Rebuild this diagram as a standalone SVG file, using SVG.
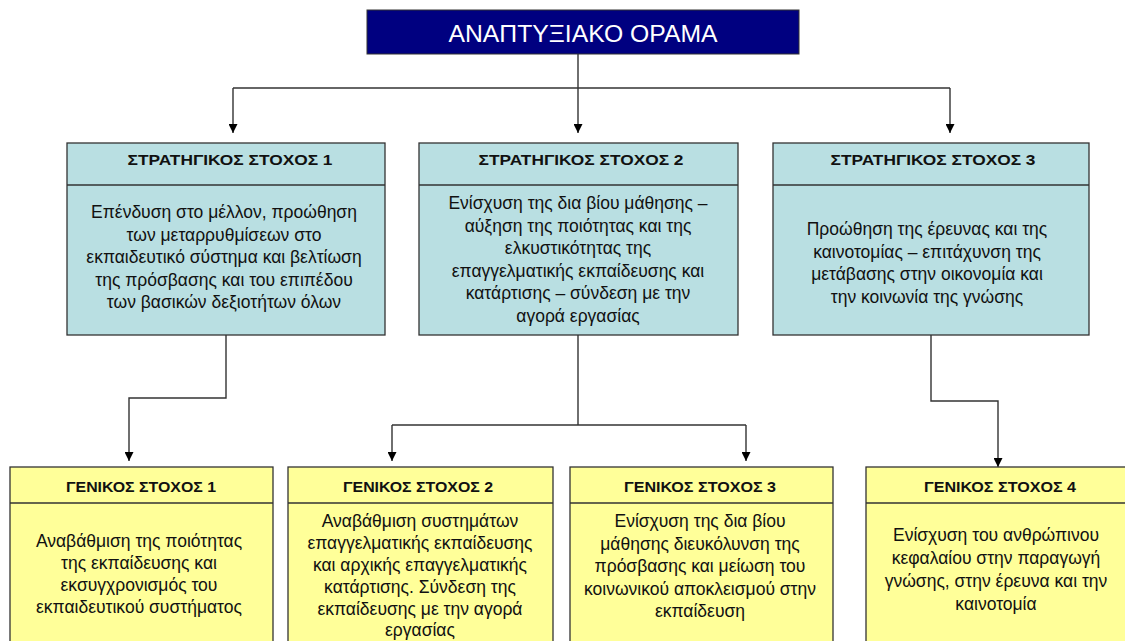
<svg xmlns="http://www.w3.org/2000/svg" width="1125" height="641" viewBox="0 0 1125 641">
<defs>
<marker id="arr" viewBox="0 0 10 10" refX="10" refY="5" markerWidth="9" markerHeight="9" markerUnits="userSpaceOnUse" orient="auto">
<path d="M0,0 L10,5 L0,10 z" fill="#000"/>
</marker>
<style>
.strat{fill:#B9DFE2;stroke:#333;stroke-width:1.3}
.gen{fill:#FFFF99;stroke:#333;stroke-width:1.3}
.div{stroke:#333;stroke-width:1.3}
.hd{font-family:"Liberation Sans",Arial,sans-serif;font-weight:bold;font-size:15.5px;fill:#111;text-anchor:middle}
.bd{font-family:"Liberation Sans",Arial,sans-serif;font-size:17.5px;fill:#111;text-anchor:middle}
.title{font-family:"Liberation Sans",Arial,sans-serif;font-size:24.5px;fill:#fff;text-anchor:middle}
.con{fill:none;stroke:#333;stroke-width:1.4}
.arrow{fill:none;stroke:#333;stroke-width:1.4;marker-end:url(#arr)}
</style>
</defs>
<rect width="1125" height="641" fill="#fff"/>

<g id="connectors">
<path class="con" d="M578,54 V88"/>
<path class="con" d="M233,88 H950"/>
<path class="arrow" d="M233,88 V133"/>
<path class="arrow" d="M578,88 V133"/>
<path class="arrow" d="M950,88 V133"/>
<path class="arrow" d="M226,335 V398 H129 V461"/>
<path class="con" d="M578,335 V425"/>
<path class="con" d="M392,425 H746"/>
<path class="arrow" d="M392,425 V461"/>
<path class="arrow" d="M746,425 V461"/>
<path class="arrow" d="M931,335 V401 H998 V467"/>
</g>

<g id="vision">
<rect x="367" y="10" width="432" height="44" fill="#000080" stroke="#333" stroke-width="1"/>
<text class="title" x="583" y="42" textLength="269" lengthAdjust="spacingAndGlyphs">ΑΝΑΠΤΥΞΙΑΚΟ ΟΡΑΜΑ</text>
</g>

<g id="strat1">
<rect class="strat" x="67" y="143" width="318" height="192"/>
<line class="div" x1="67" y1="185" x2="385" y2="185"/>
<text class="hd" x="230" y="165" textLength="205" lengthAdjust="spacingAndGlyphs">ΣΤΡΑΤΗΓΙΚΟΣ ΣΤΟΧΟΣ 1</text>
<text class="bd" x="224" y="218">Επένδυση στο μέλλον, προώθηση</text>
<text class="bd" x="224" y="240.5">των μεταρρυθμίσεων στο</text>
<text class="bd" x="224" y="263">εκπαιδευτικό σύστημα και βελτίωση</text>
<text class="bd" x="224" y="285.5">της πρόσβασης και του επιπέδου</text>
<text class="bd" x="224" y="308">των βασικών δεξιοτήτων όλων</text>
</g>

<g id="strat2">
<rect class="strat" x="419" y="143" width="319" height="192"/>
<line class="div" x1="419" y1="185" x2="738" y2="185"/>
<text class="hd" x="581" y="165" textLength="205" lengthAdjust="spacingAndGlyphs">ΣΤΡΑΤΗΓΙΚΟΣ ΣΤΟΧΟΣ 2</text>
<text class="bd" x="578" y="209">Ενίσχυση της δια βίου μάθησης –</text>
<text class="bd" x="578" y="231.5">αύξηση της ποιότητας και της</text>
<text class="bd" x="578" y="254">ελκυστικότητας της</text>
<text class="bd" x="578" y="276.5">επαγγελματικής εκπαίδευσης και</text>
<text class="bd" x="578" y="299">κατάρτισης – σύνδεση με την</text>
<text class="bd" x="578" y="321.5">αγορά εργασίας</text>
</g>

<g id="strat3">
<rect class="strat" x="773" y="143" width="316" height="192"/>
<line class="div" x1="773" y1="185" x2="1089" y2="185"/>
<text class="hd" x="933" y="165" textLength="205" lengthAdjust="spacingAndGlyphs">ΣΤΡΑΤΗΓΙΚΟΣ ΣΤΟΧΟΣ 3</text>
<text class="bd" x="927" y="235">Προώθηση της έρευνας και της</text>
<text class="bd" x="927" y="257.5">καινοτομίας – επιτάχυνση της</text>
<text class="bd" x="927" y="280">μετάβασης στην οικονομία και</text>
<text class="bd" x="927" y="302.5">την κοινωνία της γνώσης</text>
</g>

<g id="gen1">
<rect class="gen" x="10" y="467" width="263" height="200"/>
<line class="div" x1="10" y1="503" x2="273" y2="503"/>
<text class="hd" x="141" y="492" textLength="150" lengthAdjust="spacingAndGlyphs">ΓΕΝΙΚΟΣ ΣΤΟΧΟΣ 1</text>
<text class="bd" x="139" y="547">Αναβάθμιση της ποιότητας</text>
<text class="bd" x="139" y="569">της εκπαίδευσης και</text>
<text class="bd" x="139" y="591">εκσυγχρονισμός του</text>
<text class="bd" x="139" y="613">εκπαιδευτικού συστήματος</text>
</g>

<g id="gen2">
<rect class="gen" x="288" y="467" width="265" height="200"/>
<line class="div" x1="288" y1="503" x2="553" y2="503"/>
<text class="hd" x="418" y="492" textLength="150" lengthAdjust="spacingAndGlyphs">ΓΕΝΙΚΟΣ ΣΤΟΧΟΣ 2</text>
<text class="bd" x="420" y="527">Αναβάθμιση συστημάτων</text>
<text class="bd" x="420" y="549">επαγγελματικής εκπαίδευσης</text>
<text class="bd" x="420" y="571">και αρχικής επαγγελματικής</text>
<text class="bd" x="420" y="593">κατάρτισης. Σύνδεση της</text>
<text class="bd" x="420" y="615">εκπαίδευσης με την αγορά</text>
<text class="bd" x="420" y="636">εργασίας</text>
</g>

<g id="gen3">
<rect class="gen" x="570" y="467" width="263" height="200"/>
<line class="div" x1="570" y1="503" x2="833" y2="503"/>
<text class="hd" x="700" y="492" textLength="152" lengthAdjust="spacingAndGlyphs">ΓΕΝΙΚΟΣ ΣΤΟΧΟΣ 3</text>
<text class="bd" x="700" y="527">Ενίσχυση της δια βίου</text>
<text class="bd" x="700" y="549.5">μάθησης διευκόλυνση της</text>
<text class="bd" x="700" y="572">πρόσβασης και μείωση του</text>
<text class="bd" x="700" y="594.5">κοινωνικού αποκλεισμού στην</text>
<text class="bd" x="700" y="617">εκπαίδευση</text>
</g>

<g id="gen4">
<rect class="gen" x="866" y="467" width="265" height="200"/>
<line class="div" x1="866" y1="503" x2="1131" y2="503"/>
<text class="hd" x="1000" y="492" textLength="152" lengthAdjust="spacingAndGlyphs">ΓΕΝΙΚΟΣ ΣΤΟΧΟΣ 4</text>
<text class="bd" x="996" y="541">Ενίσχυση του ανθρώπινου</text>
<text class="bd" x="996" y="564">κεφαλαίου στην παραγωγή</text>
<text class="bd" x="996" y="587">γνώσης, στην έρευνα και την</text>
<text class="bd" x="996" y="610">καινοτομία</text>
</g>
</svg>
